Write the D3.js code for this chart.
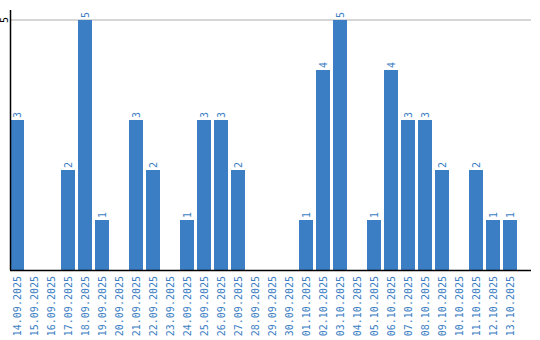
<!DOCTYPE html>
<html lang="en">
<head>
    <meta charset="UTF-8">
    <title>Daily counts</title>
    <script src="https://cdnjs.cloudflare.com/ajax/libs/d3/7.8.5/d3.min.js"></script>
</head>
<style>
    body { margin: 0; background: #fff; }
    text { font-family: "DejaVu Sans Mono", monospace; font-size: 10px; }
</style>
<body>
<script>
    const dates = ["14.09.2025", "15.09.2025", "16.09.2025", "17.09.2025", "18.09.2025",
        "19.09.2025", "20.09.2025", "21.09.2025", "22.09.2025", "23.09.2025",
        "24.09.2025", "25.09.2025", "26.09.2025", "27.09.2025", "28.09.2025",
        "29.09.2025", "30.09.2025", "01.10.2025", "02.10.2025", "03.10.2025",
        "04.10.2025", "05.10.2025", "06.10.2025", "07.10.2025", "08.10.2025",
        "09.10.2025", "10.10.2025", "11.10.2025", "12.10.2025", "13.10.2025"];
    const counts = [3, 0, 0, 2, 5, 1, 0, 3, 2, 0, 1, 3, 3, 2, 0,
        0, 0, 1, 4, 5, 0, 1, 4, 3, 3, 2, 0, 2, 1, 1];
    const yTicks = [5];

    const blue = "#3b7ec3";

    const svg = d3.select("body")
            .append("svg")
            .attr("width", 540)
            .attr("height", 340);

    const x = d3.scaleBand()
            .domain(dates)
            .range([10, 517])
            .paddingInner(3 / 17)
            .paddingOuter(0);

    const y = d3.scaleLinear()
            .domain([0, 5])
            .range([270, 20]);

    // gridline
    svg.selectAll(".grid")
            .data(yTicks)
            .enter().append("line")
            .attr("x1", 10).attr("x2", 531)
            .attr("y1", d => y(d)).attr("y2", d => y(d))
            .attr("stroke", "#c8c8c8")
            .attr("stroke-width", 1.5);

    // bars
    svg.selectAll(".bar")
            .data(counts)
            .enter().append("rect")
            .attr("x", (d, i) => x(dates[i]))
            .attr("y", d => y(d))
            .attr("width", x.bandwidth())
            .attr("height", d => y(0) - y(d))
            .attr("fill", blue);

    // value labels
    svg.selectAll(".val")
            .data(counts.map((d, i) => ({v: d, k: dates[i]})).filter(d => d.v > 0))
            .enter().append("text")
            .attr("transform", d => `translate(${x(d.k) + x.bandwidth() / 2},${y(d.v) - 2}) rotate(-90)`)
            .attr("dy", "0.35em")
            .attr("fill", blue)
            .text(d => d.v);

    // x axis
    const xAxis = svg.append("g")
            .attr("transform", "translate(0,270)")
            .call(d3.axisBottom(x).tickSize(0).tickPadding(0));
    xAxis.select(".domain").remove();
    xAxis.selectAll("text")
            .attr("font-family", "DejaVu Sans Mono")
            .attr("font-size", 10)
            .attr("fill", blue)
            .attr("text-anchor", "end")
            .attr("transform", "translate(0,6) rotate(-90)")
            .attr("x", 0).attr("y", 0)
            .attr("dy", "0.35em");

    svg.append("line")
            .attr("x1", 10).attr("x2", 531)
            .attr("y1", 270.5).attr("y2", 270.5)
            .attr("stroke", "#000")
            .attr("stroke-width", 1.5);

    // y axis
    svg.append("line")
            .attr("x1", 10.5).attr("x2", 10.5)
            .attr("y1", 10).attr("y2", 270)
            .attr("stroke", "#000")
            .attr("stroke-width", 1.5);

    svg.selectAll(".ytick")
            .data(yTicks)
            .enter().append("text")
            .attr("transform", d => `translate(4,${y(d)}) rotate(-90)`)
            .attr("text-anchor", "middle")
            .attr("dy", "0.35em")
            .attr("font-size", 9)
            .attr("fill", "#000")
            .text(d => d);
</script>
</body>
</html>
